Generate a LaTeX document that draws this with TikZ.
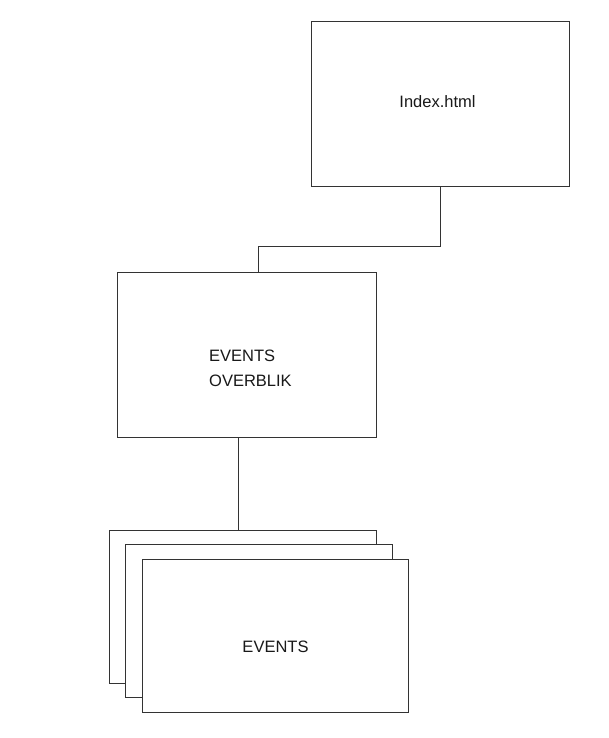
\documentclass[tikz,border=0pt]{standalone}
\usepackage{fontspec}
\setmainfont{Liberation Sans}
\usepackage{xcolor}

\tikzset{
  page/.style={draw=black!80,line width=0.9pt,fill=white,inner sep=0pt},
  caption/.style={inner sep=0pt,font=\fontsize{16.5}{20}\selectfont,text=black!90},
  link/.style={draw=black!80,line width=0.9pt}
}

\begin{document}
\begin{tikzpicture}[x=1pt,y=-1pt]
            \useasboundingbox (0,0) rectangle (608,738);

            \node (index) at (440,103.5) [page,minimum width=258pt,minimum height=165pt] {};
            \node (overblik) at (246.5,354.5) [page,minimum width=259pt,minimum height=165pt] {};
            \node (back) at (242.5,606.5) [page,minimum width=267pt,minimum height=153pt] {};
            \node (mid) at (258.5,620.5) [page,minimum width=267pt,minimum height=153pt] {};
            \node (front) at (275,635.5) [page,minimum width=266pt,minimum height=153pt] {};

            \node (indextext) at (437.5,108) [caption,anchor=base] {Index.html};
            \node (overbliktop) at (209,361) [caption,anchor=base west] {EVENTS};
            \node (overblikbot) at (209,386) [caption,anchor=base west] {OVERBLIK};
            \node (eventstext) at (275.5,652) [caption,anchor=base] {EVENTS};

            \coordinate (knee) at (258,246);
            \coordinate (drop) at (238,437);
            \draw[link] (index.south) |- (knee) -- (knee |- overblik.north);
            \draw[link] (drop) -- (drop |- back.north);

        \end{tikzpicture}
\end{document}
